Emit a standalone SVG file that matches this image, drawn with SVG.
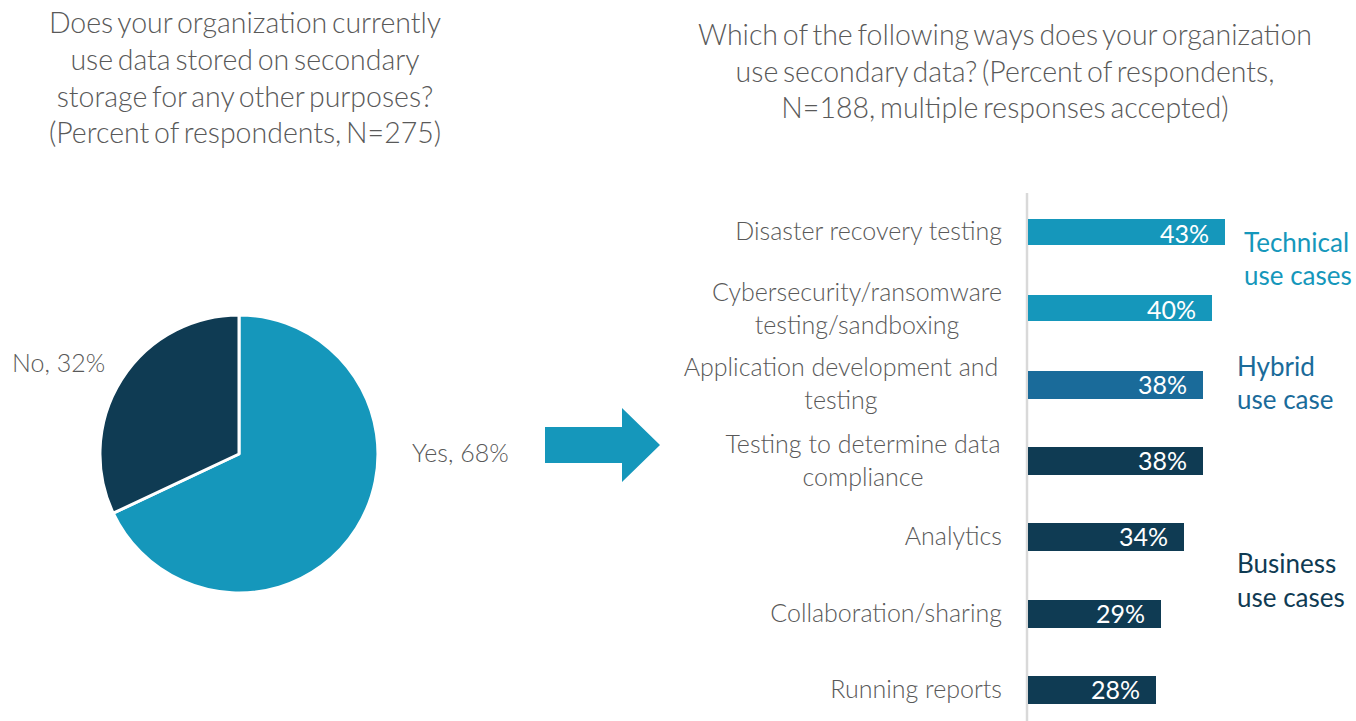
<svg xmlns="http://www.w3.org/2000/svg" width="1356" height="721" viewBox="0 0 1356 721">
<style>
text{font-family:Lato,"Source Sans Pro","Open Sans","Liberation Sans",sans-serif;}
.title{font-size:28.5px;fill:#595959;font-weight:300;text-anchor:middle;word-spacing:-3px;}
.cat{font-size:25px;fill:#595959;font-weight:300;text-anchor:end;}
.catc{font-size:25px;fill:#595959;font-weight:300;text-anchor:middle;}
.pl{font-size:25px;fill:#595959;font-weight:300;}
.val{font-size:25px;fill:#ffffff;text-anchor:end;}
.side{font-size:26px;}
.tech{fill:#1597BB;}
.hyb{fill:#1A6B9A;}
.bus{fill:#0F3B53;}
</style>
<rect width="1356" height="721" fill="#ffffff"/>
<g id="title-left">
<text class="title" x="245" y="33">Does your organization currently</text>
<text class="title" x="245" y="70">use data stored on secondary</text>
<text class="title" x="245" y="107">storage for any other purposes?</text>
<text class="title" x="245" y="143">(Percent of respondents, N=275)</text>
</g>
<g id="title-right">
<text class="title" x="1005" y="45">Which of the following ways does your organization</text>
<text class="title" x="1005" y="82">use secondary data? (Percent of respondents,</text>
<text class="title" x="1005" y="118">N=188, multiple responses accepted)</text>
</g>
<g id="pie">
<path d="M239,454 L239,315 A139,139 0 1,1 113.2,513.2 Z" fill="#1597BB" stroke="#ffffff" stroke-width="3" stroke-linejoin="round"/>
<path d="M239,454 L239,315 A139,139 0 0,0 113.2,513.2 Z" fill="#0F3B53" stroke="#ffffff" stroke-width="3" stroke-linejoin="round"/>
<text class="pl" x="12" y="372">No, 32%</text>
<text class="pl" x="412" y="462">Yes, 68%</text>
</g>
<g id="arrow">
<polygon points="545,427 622,427 622,408 660,445 622,482 622,463 545,463" fill="#1597BB"/>
</g>
<g id="axis">
<line x1="1027" y1="193" x2="1027" y2="721" stroke="#D9D9D9" stroke-width="2.5"/>
</g>
<g id="bar1">
<rect class="tech" x="1028" y="219" width="197" height="26"/>
<text class="val" x="1209" y="243">43%</text>
<text class="cat" x="1002" y="240">Disaster recovery testing</text>
</g>
<g id="bar2">
<rect class="tech" x="1028" y="295" width="184" height="26"/>
<text class="val" x="1196" y="319">40%</text>
<text class="catc" x="857" y="301">Cybersecurity/ransomware</text>
<text class="catc" x="857" y="334">testing/sandboxing</text>
</g>
<g id="bar3">
<rect class="hyb" x="1028" y="371" width="175" height="28"/>
<text class="val" x="1187" y="394">38%</text>
<text class="catc" x="841" y="376">Application development and</text>
<text class="catc" x="841" y="409">testing</text>
</g>
<g id="bar4">
<rect class="bus" x="1028" y="447" width="175" height="28"/>
<text class="val" x="1187" y="470">38%</text>
<text class="catc" x="863" y="453">Testing to determine data</text>
<text class="catc" x="863" y="486">compliance</text>
</g>
<g id="bar5">
<rect class="bus" x="1028" y="523" width="156" height="28"/>
<text class="val" x="1168" y="546">34%</text>
<text class="cat" x="1002" y="545">Analytics</text>
</g>
<g id="bar6">
<rect class="bus" x="1028" y="600" width="133" height="28"/>
<text class="val" x="1145" y="623">29%</text>
<text class="cat" x="1002" y="622">Collaboration/sharing</text>
</g>
<g id="bar7">
<rect class="bus" x="1028" y="676" width="128" height="28"/>
<text class="val" x="1140" y="699">28%</text>
<text class="cat" x="1002" y="698">Running reports</text>
</g>
<g id="group-technical">
<text class="side tech" x="1244" y="252">Technical</text>
<text class="side tech" x="1244" y="285">use cases</text>
</g>
<g id="group-hybrid">
<text class="side hyb" x="1237" y="376">Hybrid</text>
<text class="side hyb" x="1237" y="409">use case</text>
</g>
<g id="group-business">
<text class="side bus" x="1237" y="573">Business</text>
<text class="side bus" x="1237" y="607">use cases</text>
</g>
</svg>
